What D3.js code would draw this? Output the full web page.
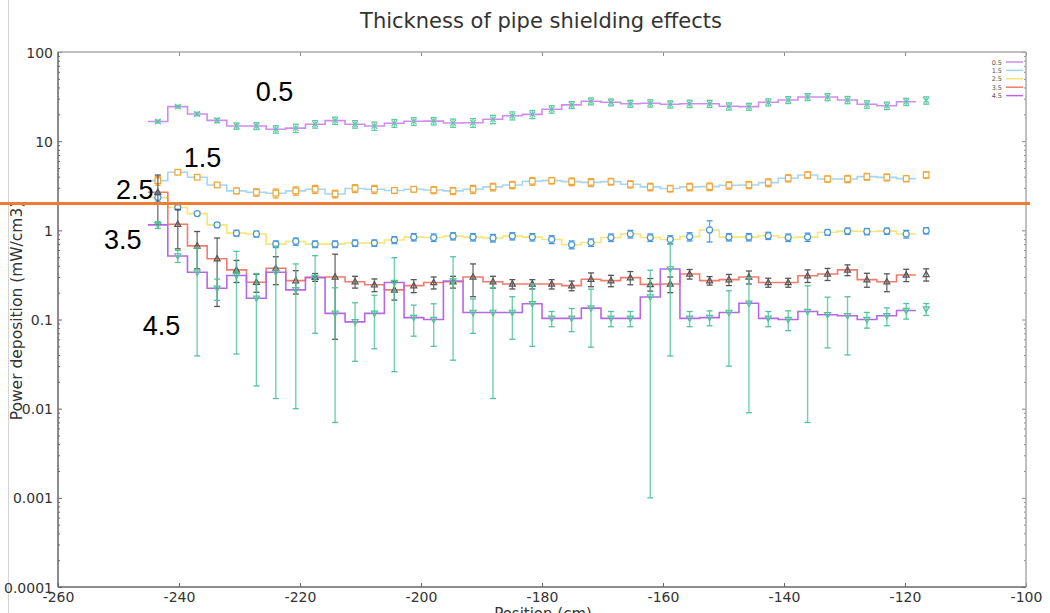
<!DOCTYPE html>
<html>
<head>
<meta charset="utf-8">
<script src="https://cdn.jsdelivr.net/npm/d3@7"></script>
<style>
  body { margin: 0; background: #fff; }
  svg { display: block; }
</style>
</head>
<body>
<svg id="chart" width="1050" height="613"></svg>
<script>
// Bin centres along the pipe (cm)
const positions = [-243.5, -240.2, -237.0, -233.7, -230.5, -227.2, -224.0, -220.7, -217.5, -214.2,
                   -210.9, -207.7, -204.4, -201.2, -197.9, -194.7, -191.4, -188.1, -184.9, -181.6,
                   -178.4, -175.1, -171.9, -168.6, -165.4, -162.1, -158.8, -155.6, -152.3, -149.1,
                   -145.8, -142.6, -139.3, -136.1, -132.8, -129.5, -126.3, -123.0, -119.8, -116.5];

// Shielding thickness of each run
const thickness = ["0.5", "1.5", "2.5", "3.5", "4.5"];

// Power deposition (mW/cm3) and its uncertainty, one pair of arrays per thickness
const dep05 = [16.6, 24.4, 20.2, 17.1, 14.8, 14.8, 13.6, 14.0, 15.5, 17.0, 15.5, 14.8, 15.9, 16.7, 16.8, 16.0, 16.1, 17.6, 19.3, 20.0,
               22.8, 25.5, 28.0, 27.3, 26.3, 26.6, 25.9, 26.3, 26.3, 24.6, 24.4, 27.3, 29.0, 31.3, 31.3, 29.0, 25.9, 25.0, 27.7, 28.7];
const err05 = [0.6, 0.8, 0.9, 1.0, 1.2, 1.3, 1.3, 1.5, 1.5, 1.6, 1.5, 1.6, 1.6, 1.7, 1.6, 1.7, 1.8, 1.9, 2.0, 2.1,
               2.2, 2.3, 2.5, 2.4, 2.4, 2.5, 2.4, 2.5, 2.4, 2.3, 2.2, 2.5, 2.6, 2.8, 2.9, 2.7, 2.5, 2.4, 2.6, 2.7];

const dep15 = [3.61, 4.48, 3.94, 3.23, 2.77, 2.67, 2.61, 2.77, 2.89, 2.56, 2.95, 2.89, 2.80, 2.89, 2.83, 2.77, 2.89, 3.07, 3.23, 3.55,
               3.61, 3.52, 3.45, 3.52, 3.29, 3.07, 2.94, 3.07, 3.09, 3.20, 3.23, 3.43, 3.84, 4.18, 3.77, 3.77, 4.00, 3.93, 3.80, 4.18];
const err15 = [0.4, 0.15, 0.15, 0.2, 0.2, 0.25, 0.3, 0.3, 0.3, 0.25, 0.3, 0.3, 0.2, 0.2, 0.25, 0.25, 0.3, 0.3, 0.3, 0.35,
               0.3, 0.35, 0.35, 0.3, 0.3, 0.3, 0.25, 0.3, 0.3, 0.3, 0.3, 0.35, 0.35, 0.35, 0.3, 0.35, 0.35, 0.35, 0.3, 0.35];

const dep25 = [2.33, 1.80, 1.54, 1.15, 0.93, 0.91, 0.70, 0.75, 0.70, 0.70, 0.72, 0.72, 0.78, 0.84, 0.83, 0.86, 0.84, 0.82, 0.86, 0.84,
               0.79, 0.69, 0.73, 0.83, 0.91, 0.83, 0.79, 0.85, 1.01, 0.84, 0.84, 0.87, 0.83, 0.84, 0.95, 0.98, 0.97, 0.98, 0.91, 0.99];
const err25 = [0.25, 0.1, 0.07, 0.07, 0.07, 0.07, 0.06, 0.07, 0.06, 0.06, 0.06, 0.06, 0.07, 0.08, 0.08, 0.08, 0.08, 0.08, 0.08, 0.08,
               0.08, 0.07, 0.07, 0.08, 0.09, 0.08, 0.08, 0.09, 0.27, 0.08, 0.08, 0.08, 0.08, 0.09, 0.07, 0.08, 0.08, 0.08, 0.09, 0.08];

const dep35 = [2.67, 1.17, 0.67, 0.48, 0.36, 0.262, 0.376, 0.273, 0.298, 0.30, 0.265, 0.245, 0.215, 0.24, 0.26, 0.265, 0.30, 0.265, 0.25, 0.25,
               0.25, 0.24, 0.283, 0.273, 0.295, 0.248, 0.25, 0.324, 0.273, 0.28, 0.30, 0.26, 0.26, 0.31, 0.324, 0.36, 0.28, 0.265, 0.316, 0.32];
const err35 = [1.5, 0.55, 0.3, 0.34, 0.1, 0.06, 0.13, 0.08, 0.03, 0.24, 0.04, 0.04, 0.05, 0.04, 0.04, 0.04, 0.12, 0.04, 0.03, 0.03,
               0.03, 0.03, 0.05, 0.04, 0.05, 0.04, 0.05, 0.04, 0.03, 0.04, 0.05, 0.03, 0.03, 0.05, 0.05, 0.05, 0.05, 0.06, 0.05, 0.05];

const dep45 = [1.15, 0.516, 0.339, 0.224, 0.311, 0.173, 0.339, 0.215, 0.295, 0.117, 0.094, 0.117, 0.26, 0.105, 0.10, 0.27, 0.12, 0.12, 0.12, 0.15,
               0.103, 0.103, 0.134, 0.103, 0.103, 0.179, 0.369, 0.103, 0.105, 0.12, 0.152, 0.103, 0.10, 0.123, 0.113, 0.11, 0.10, 0.11, 0.126, 0.131];
const err45 = [0.1, 0.08, 0.30, 0.06, 0.27, 0.155, 0.326, 0.205, 0.225, 0.11, 0.06, 0.07, 0.234, 0.04, 0.05, 0.235, 0.05, 0.107, 0.06, 0.10,
               0.02, 0.03, 0.085, 0.02, 0.02, 0.178, 0.33, 0.02, 0.02, 0.09, 0.143, 0.02, 0.025, 0.116, 0.065, 0.07, 0.02, 0.025, 0.025, 0.02];

// Axis ticks
const xTickValues = [-260, -240, -220, -200, -180, -160, -140, -120, -100];
const xTickLabels = ["-260", "-240", "-220", "-200", "-180", "-160", "-140", "-120", "-100"];
const yTickValues = [1e-4, 1e-3, 1e-2, 0.1, 1, 10, 100];
const yTickLabels = ["0.0001", "0.001", "0.01", "0.1", "1", "10", "100"];

// Reference level (mW/cm3) drawn across the plot
const limitLevel = 2;

// Thickness annotations placed next to each curve: [text, position (cm), deposition]
const curveNotes = [["0.5", -227.3, 28.2], ["1.5", -239.2, 5.14], ["2.5", -250.4, 2.25],
                    ["3.5", -252.4, 0.619], ["4.5", -246.0, 0.0672]];

const seriesData = [
  { name: thickness[0], values: dep05, errors: err05, line: "#cf8cef", mark: "#5cc9a4", shape: "cross" },
  { name: thickness[1], values: dep15, errors: err15, line: "#a6d5f2", mark: "#f0a636", shape: "square" },
  { name: thickness[2], values: dep25, errors: err25, line: "#f6e577", mark: "#4a98d8", shape: "circle" },
  { name: thickness[3], values: dep35, errors: err35, line: "#f27b6c", mark: "#555555", shape: "triangle" },
  { name: thickness[4], values: dep45, errors: err45, line: "#b866e8", mark: "#4fc49b", shape: "triangleDown" }
];

const svg = d3.select("#chart");
const W = 1050, H = 613;
const plotLeft = 58, plotRight = 1026, plotTop = 52, plotBottom = 587;

const x = d3.scaleLinear().domain([-260, -100]).range([plotLeft, plotRight]);
const y = d3.scaleLog().domain([1e-4, 100]).range([plotBottom, plotTop]);

// page edge rule
svg.append("line").attr("x1", 8.5).attr("x2", 8.5).attr("y1", 0).attr("y2", H)
  .attr("stroke", "#d4d4d4").attr("stroke-width", 1);

// Title
svg.append("text").attr("x", 541).attr("y", 28).attr("text-anchor", "middle")
  .attr("font-family", "DejaVu Sans").attr("font-size", 21).attr("fill", "#333")
  .text("Thickness of pipe shielding effects");

// Minor log ticks
const minorTicks = [];
for (let e = -4; e < 2; e++) for (let m = 2; m <= 9; m++) minorTicks.push(m * Math.pow(10, e));

const axisFont = g => g.selectAll("text").attr("font-family", "DejaVu Sans").attr("font-size", 14).attr("fill", "#333");

// Bottom axis
svg.append("g").attr("transform", `translate(0,${plotBottom})`)
  .call(d3.axisBottom(x).tickValues(xTickValues).tickSize(-4).tickPadding(5)
    .tickFormat((d, i) => xTickLabels[i]))
  .call(g => g.select(".domain").remove())
  .call(g => g.selectAll(".tick line").attr("stroke", "#666"))
  .call(axisFont);

// Top axis ticks
svg.append("g").attr("transform", `translate(0,${plotTop})`)
  .call(d3.axisTop(x).tickValues(xTickValues).tickSize(-4).tickFormat(""))
  .call(g => g.select(".domain").remove())
  .call(g => g.selectAll(".tick line").attr("stroke", "#888"));

// Left axis
svg.append("g").attr("transform", `translate(${plotLeft},0)`)
  .call(d3.axisLeft(y).tickValues(yTickValues).tickSize(-4).tickPadding(5)
    .tickFormat((d, i) => yTickLabels[i]))
  .call(g => g.select(".domain").remove())
  .call(g => g.selectAll(".tick line").attr("stroke", "#666"))
  .call(axisFont)
  .call(g => g.selectAll("text").attr("dy", "0.36em"));
svg.append("g").attr("transform", `translate(${plotLeft},0)`)
  .call(d3.axisLeft(y).tickValues(minorTicks).tickSize(-2).tickFormat(""))
  .call(g => g.select(".domain").remove())
  .call(g => g.selectAll(".tick line").attr("stroke", "#666"));

// Right axis ticks
svg.append("g").attr("transform", `translate(${plotRight},0)`)
  .call(d3.axisRight(y).tickValues(yTickValues).tickSize(-4).tickFormat(""))
  .call(g => g.select(".domain").remove())
  .call(g => g.selectAll(".tick line").attr("stroke", "#888"));
svg.append("g").attr("transform", `translate(${plotRight},0)`)
  .call(d3.axisRight(y).tickValues(minorTicks).tickSize(-2).tickFormat(""))
  .call(g => g.select(".domain").remove())
  .call(g => g.selectAll(".tick line").attr("stroke", "#888"));

// Frame
svg.append("line").attr("x1", plotLeft).attr("x2", plotRight).attr("y1", plotTop).attr("y2", plotTop)
  .attr("stroke", "#aaa").attr("stroke-width", 1.5);
svg.append("line").attr("x1", plotRight).attr("x2", plotRight).attr("y1", plotTop).attr("y2", plotBottom)
  .attr("stroke", "#aaa").attr("stroke-width", 1.5);
svg.append("line").attr("x1", plotLeft).attr("x2", plotLeft).attr("y1", plotTop).attr("y2", plotBottom)
  .attr("stroke", "#666").attr("stroke-width", 1.5);
svg.append("line").attr("x1", plotLeft).attr("x2", plotRight).attr("y1", plotBottom).attr("y2", plotBottom)
  .attr("stroke", "#666").attr("stroke-width", 1.5);

// Axis titles
svg.append("text").attr("transform", `translate(22,311) rotate(-90)`).attr("text-anchor", "middle")
  .attr("font-family", "DejaVu Sans").attr("font-size", 15.5).attr("fill", "#333")
  .text("Power deposition (mW/cm3)");
svg.append("text").attr("x", 543).attr("y", 619).attr("text-anchor", "middle")
  .attr("font-family", "DejaVu Sans").attr("font-size", 15).attr("fill", "#333")
  .text("Position (cm)");

// Step lines (histogram steps centred on each bin; the final bin carries only its error bar)
const plot = svg.append("g");
const stepLine = d3.line().x(d => x(d[0])).y(d => y(d[1])).curve(d3.curveStep);
seriesData.forEach(s => {
  const n = s.values.length - 1;
  const pts = positions.slice(0, n).map((p, i) => [p, s.values[i]]);
  const halfLead = (positions[1] - positions[0]) / 2;
  const halfTail = (positions[n - 1] - positions[n - 2]) / 2;
  const ext = [[positions[0] - halfLead, s.values[0]], ...pts, [positions[n - 1] + halfTail, s.values[n - 1]]];
  plot.append("path").attr("d", stepLine(ext)).attr("fill", "none")
    .attr("stroke", s.line).attr("stroke-width", 1.6);
});

// Error bars and markers
const lowBound = 1e-4;
seriesData.forEach(s => {
  const g = plot.append("g").attr("stroke", s.mark).attr("fill", "none");
  s.values.forEach((v, i) => {
    const px = x(positions[i]);
    const lo = y(Math.max(lowBound, v - s.errors[i]));
    const hi = y(v + s.errors[i]);
    g.append("line").attr("x1", px).attr("x2", px).attr("y1", lo).attr("y2", hi)
      .attr("stroke-width", 1.4).attr("stroke-opacity", 0.8);
    g.append("line").attr("x1", px - 3).attr("x2", px + 3).attr("y1", lo).attr("y2", lo).attr("stroke-width", 1.3);
    g.append("line").attr("x1", px - 3).attr("x2", px + 3).attr("y1", hi).attr("y2", hi).attr("stroke-width", 1.3);
    const py = y(v);
    let m;
    if (s.shape === "cross") {
      m = g.append("path").attr("d", `M${px-2.8},${py-2.8}L${px+2.8},${py+2.8}M${px-2.8},${py+2.8}L${px+2.8},${py-2.8}`);
    } else if (s.shape === "square") {
      m = g.append("rect").attr("x", px - 2.8).attr("y", py - 2.8).attr("width", 5.6).attr("height", 5.6).attr("fill", "#fff");
    } else if (s.shape === "circle") {
      m = g.append("circle").attr("cx", px).attr("cy", py).attr("r", 3).attr("fill", "#fff");
    } else if (s.shape === "triangle") {
      m = g.append("path").attr("d", `M${px},${py-3.2}L${px+3},${py+2.2}L${px-3},${py+2.2}Z`);
    } else {
      m = g.append("path").attr("d", `M${px},${py+3.2}L${px+3},${py-2.2}L${px-3},${py-2.2}Z`);
    }
    m.attr("stroke-width", 1.2);
  });
});

// Reference level
svg.append("line").attr("x1", 0).attr("x2", 1030).attr("y1", y(limitLevel)).attr("y2", y(limitLevel))
  .attr("stroke", "#ed7d31").attr("stroke-width", 3);

// Thickness annotations
curveNotes.forEach(([t, px, v]) => {
  svg.append("text").attr("x", x(px)).attr("y", y(v))
    .attr("font-family", "Liberation Sans, Arial, sans-serif").attr("font-size", 27).attr("fill", "#000")
    .text(t);
});

// Legend
const legend = svg.append("g").attr("transform", "translate(1002,62)");
seriesData.forEach((s, i) => {
  const row = legend.append("g").attr("transform", `translate(0,${i * 8.4})`);
  row.append("text").attr("x", 0).attr("y", 2.5).attr("text-anchor", "end")
    .attr("font-family", "DejaVu Sans").attr("font-size", 6.5).attr("fill", "#555").text(s.name);
  row.append("line").attr("x1", 4).attr("x2", 21).attr("y1", 0).attr("y2", 0)
    .attr("stroke", s.line).attr("stroke-width", 1.5);
});
</script>
</body>
</html>
